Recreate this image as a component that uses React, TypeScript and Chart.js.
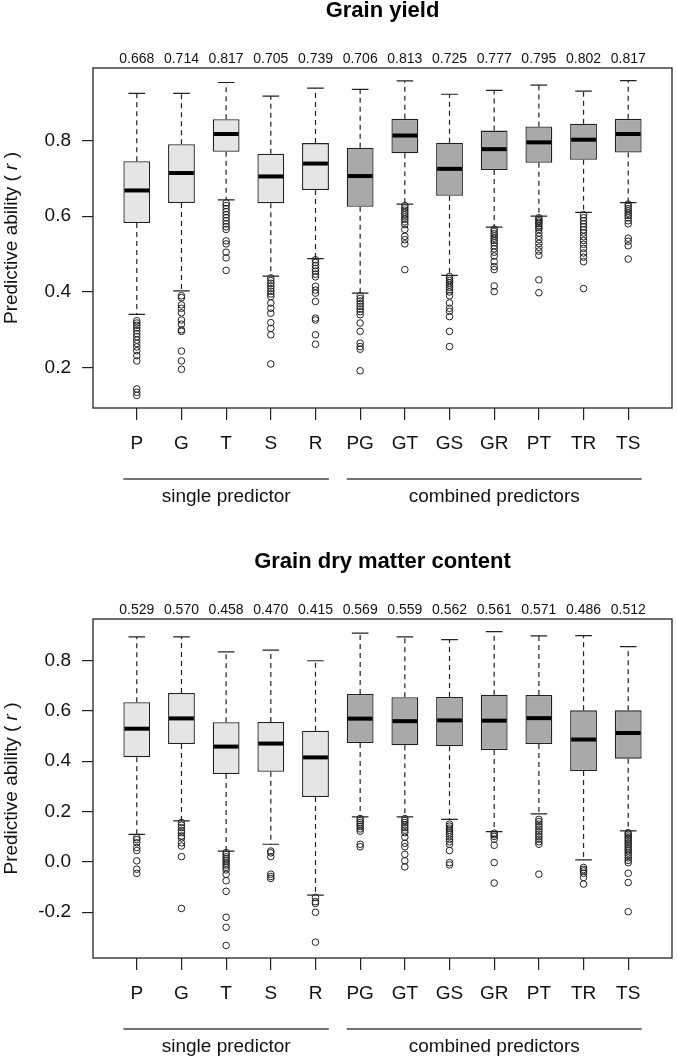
import React, { useRef, useEffect } from 'react';
import { Chart, registerables } from 'chart.js';

Chart.register(...registerables);
Chart.defaults.font.family = '"Liberation Sans", Arial, Helvetica, sans-serif';

const categories = ['P', 'G', 'T', 'S', 'R', 'PG', 'GT', 'GS', 'GR', 'PT', 'TR', 'TS'];
// first five are single predictors, the rest combined
const singleCount = 5;
const groupLabels = ['single predictor', 'combined predictors'];

// Grain yield
const gyMedian = [0.668, 0.714, 0.817, 0.705, 0.739, 0.706, 0.813, 0.725, 0.777, 0.795, 0.802, 0.817];
const gyQ1 = [0.582, 0.635, 0.770, 0.634, 0.669, 0.625, 0.766, 0.654, 0.722, 0.741, 0.749, 0.768];
const gyQ3 = [0.745, 0.790, 0.856, 0.765, 0.793, 0.781, 0.857, 0.794, 0.826, 0.837, 0.844, 0.857];
const gyLow = [0.341, 0.403, 0.643, 0.442, 0.488, 0.397, 0.632, 0.444, 0.571, 0.600, 0.610, 0.636];
const gyHigh = [0.924, 0.924, 0.953, 0.917, 0.938, 0.935, 0.957, 0.922, 0.932, 0.946, 0.930, 0.958];
const gyOutliers = [
  [0.324, 0.318, 0.312, 0.305, 0.298, 0.29, 0.282, 0.273, 0.264, 0.255, 0.245, 0.232, 0.218, 0.144, 0.135, 0.127],
  [0.39, 0.385, 0.366, 0.357, 0.345, 0.326, 0.315, 0.3, 0.296, 0.244, 0.218, 0.196],
  [0.635, 0.628, 0.62, 0.612, 0.604, 0.596, 0.588, 0.58, 0.572, 0.565, 0.535, 0.527, 0.505, 0.49, 0.457],
  [0.437, 0.43, 0.423, 0.416, 0.409, 0.402, 0.395, 0.388, 0.371, 0.357, 0.344, 0.319, 0.304, 0.287, 0.21],
  [0.485, 0.478, 0.47, 0.462, 0.455, 0.447, 0.44, 0.415, 0.405, 0.397, 0.375, 0.331, 0.326, 0.287, 0.262],
  [0.39, 0.383, 0.376, 0.369, 0.362, 0.355, 0.348, 0.34, 0.318, 0.296, 0.265, 0.256, 0.249, 0.192],
  [0.628, 0.622, 0.616, 0.61, 0.604, 0.598, 0.592, 0.585, 0.578, 0.565, 0.547, 0.538, 0.527, 0.459],
  [0.441, 0.435, 0.43, 0.424, 0.418, 0.412, 0.406, 0.4, 0.39, 0.371, 0.357, 0.349, 0.335, 0.296, 0.256],
  [0.566, 0.56, 0.554, 0.548, 0.542, 0.536, 0.53, 0.522, 0.514, 0.505, 0.495, 0.48, 0.467, 0.459, 0.416, 0.401],
  [0.596, 0.592, 0.588, 0.584, 0.58, 0.575, 0.57, 0.565, 0.556, 0.547, 0.538, 0.528, 0.518, 0.508, 0.497, 0.432, 0.398],
  [0.604, 0.596, 0.588, 0.58, 0.572, 0.564, 0.556, 0.546, 0.536, 0.526, 0.515, 0.503, 0.492, 0.48, 0.409],
  [0.632, 0.626, 0.62, 0.614, 0.608, 0.602, 0.596, 0.588, 0.58, 0.542, 0.534, 0.522, 0.487],
];
const gyTicks = [0.2, 0.4, 0.6, 0.8];

// Grain dry matter content
const dmMedian = [0.529, 0.570, 0.458, 0.470, 0.415, 0.569, 0.559, 0.562, 0.561, 0.571, 0.486, 0.512];
const dmQ1 = [0.416, 0.468, 0.349, 0.358, 0.258, 0.472, 0.463, 0.459, 0.444, 0.468, 0.361, 0.410];
const dmQ3 = [0.634, 0.671, 0.555, 0.556, 0.521, 0.667, 0.654, 0.655, 0.664, 0.663, 0.602, 0.602];
const dmLow = [0.109, 0.163, 0.043, 0.070, -0.132, 0.179, 0.179, 0.169, 0.120, 0.191, 0.008, 0.123];
const dmHigh = [0.894, 0.894, 0.834, 0.841, 0.799, 0.909, 0.894, 0.883, 0.915, 0.898, 0.899, 0.855];
const dmOutliers = [
  [0.096, 0.088, 0.076, 0.057, 0.045, 0.004, -0.029, -0.046],
  [0.156, 0.146, 0.136, 0.124, 0.116, 0.103, 0.095, 0.076, 0.063, 0.021, -0.185],
  [0.037, 0.029, 0.02, 0.012, 0.004, -0.005, -0.013, -0.022, -0.032, -0.049, -0.075, -0.117, -0.22, -0.26, -0.332],
  [0.043, 0.036, 0.021, -0.049, -0.058, -0.066],
  [-0.141, -0.158, -0.165, -0.2, -0.319],
  [0.172, 0.164, 0.156, 0.148, 0.14, 0.131, 0.122, 0.07, 0.06],
  [0.172, 0.164, 0.156, 0.146, 0.136, 0.126, 0.116, 0.098, 0.074, 0.06, 0.03, 0.004, -0.02],
  [0.15, 0.142, 0.134, 0.126, 0.118, 0.11, 0.1, 0.09, 0.08, 0.07, 0.045, -0.003, -0.012],
  [0.114, 0.108, 0.101, 0.09, 0.066, -0.003, -0.084],
  [0.169, 0.16, 0.15, 0.14, 0.13, 0.12, 0.11, 0.1, 0.09, 0.08, 0.07, -0.049],
  [-0.022, -0.03, -0.036, -0.045, -0.062, -0.088],
  [0.116, 0.11, 0.103, 0.096, 0.089, 0.082, 0.075, 0.068, 0.06, 0.052, 0.044, 0.035, 0.026, 0.016, 0.006, -0.003, -0.045, -0.082, -0.198],
];
const dmTicks = [-0.2, 0.0, 0.2, 0.4, 0.6, 0.8];

interface PanelProps {
  title: string;
  median: number[];
  q1: number[];
  q3: number[];
  low: number[];
  high: number[];
  outliers: number[][];
  yTicks: number[];
  padTop: number;
  axisHeight: number;
}

const INK = '#222';
const LIGHT = '#e5e5e5';
const DARK = '#a9a9a9';
const FAMILY = '"Liberation Sans", Arial, sans-serif';

function BoxPanel(props: PanelProps) {
  const canvasRef = useRef<HTMLCanvasElement>(null);
  const chartRef = useRef<Chart | null>(null);

  useEffect(() => {
    if (!canvasRef.current) return;
    const { title, median, q1, q3, low, high, outliers, yTicks, padTop, axisHeight } = props;

    // R style axis ranges: 4% beyond the data
    const all = outliers.flat().concat(low, high);
    const dMin = Math.min(...all);
    const dMax = Math.max(...all);
    const yPad = (dMax - dMin) * 0.04;
    const n = categories.length;
    const xPad = n * 0.04;

    const boxDecor = {
      id: 'boxDecor',
      afterDatasetsDraw: (chart: any) => {
        const ctx = chart.ctx;
        const ys = chart.scales.y;
        const meta = chart.getDatasetMeta(0);
        ctx.save();
        meta.data.forEach((bar: any, i: number) => {
          const { x, width } = bar.getProps(['x', 'width'], true);
          const yHi = ys.getPixelForValue(high[i]);
          const yLo = ys.getPixelForValue(low[i]);
          const yQ1 = ys.getPixelForValue(q1[i]);
          const yQ3 = ys.getPixelForValue(q3[i]);
          const yMed = ys.getPixelForValue(median[i]);
          ctx.strokeStyle = INK;
          ctx.lineWidth = 1.2;
          ctx.setLineDash([5, 4]);
          ctx.beginPath();
          ctx.moveTo(x, yQ3);
          ctx.lineTo(x, yHi);
          ctx.moveTo(x, yQ1);
          ctx.lineTo(x, yLo);
          ctx.stroke();
          ctx.setLineDash([]);
          const cap = width * 0.31;
          ctx.beginPath();
          ctx.moveTo(x - cap, yHi);
          ctx.lineTo(x + cap, yHi);
          ctx.moveTo(x - cap, yLo);
          ctx.lineTo(x + cap, yLo);
          ctx.stroke();
          ctx.lineWidth = 4;
          ctx.strokeStyle = '#000';
          ctx.beginPath();
          ctx.moveTo(x - width / 2 + 1, yMed);
          ctx.lineTo(x + width / 2 - 1, yMed);
          ctx.stroke();
        });
        ctx.restore();
      },
    };

    const annotations = {
      id: 'annotations',
      afterDraw: (chart: any) => {
        const ctx = chart.ctx;
        const { left, right, top, bottom } = chart.chartArea;
        const xs = chart.scales.x;
        ctx.save();
        // frame
        ctx.strokeStyle = INK;
        ctx.lineWidth = 1.3;
        ctx.strokeRect(left, top, right - left, bottom - top);

        // title
        ctx.fillStyle = '#000';
        ctx.textAlign = 'center';
        ctx.textBaseline = 'alphabetic';
        ctx.font = `bold 22px ${FAMILY}`;
        ctx.fillText(title, (left + right) / 2, top - 51);

        // median labels
        ctx.fillStyle = '#111';
        ctx.font = `14px ${FAMILY}`;
        median.forEach((m, i) => {
          ctx.fillText(m.toFixed(3), xs.getPixelForValue(i + 1), top - 5);
        });

        // y-axis title with italic r
        const font = `19px ${FAMILY}`;
        const ifont = `italic 19px ${FAMILY}`;
        const parts = [
          { t: 'Predictive ability ( ', f: font },
          { t: 'r', f: ifont },
          { t: ' )', f: font },
        ];
        let total = 0;
        parts.forEach((p) => {
          ctx.font = p.f;
          total += ctx.measureText(p.t).width;
        });
        ctx.save();
        ctx.translate(17, (top + bottom) / 2);
        ctx.rotate(-Math.PI / 2);
        ctx.textAlign = 'left';
        let px = -total / 2;
        parts.forEach((p) => {
          ctx.font = p.f;
          ctx.fillText(p.t, px, 0);
          px += ctx.measureText(p.t).width;
        });
        ctx.restore();

        // group brackets
        const groups = [
          [0.7, singleCount + 0.3],
          [singleCount + 0.7, n + 0.3],
        ];
        ctx.strokeStyle = '#444';
        ctx.lineWidth = 1.3;
        ctx.font = font;
        ctx.textAlign = 'center';
        ctx.textBaseline = 'middle';
        groups.forEach(([a, b], gi) => {
          const xa = xs.getPixelForValue(a);
          const xb = xs.getPixelForValue(b);
          ctx.beginPath();
          ctx.moveTo(xa, bottom + 71);
          ctx.lineTo(xb, bottom + 71);
          ctx.stroke();
          ctx.fillText(groupLabels[gi], (xa + xb) / 2, bottom + 89);
        });
        ctx.restore();
      },
    };

    chartRef.current?.destroy();
    chartRef.current = new Chart(canvasRef.current, {
      type: 'bar',
      data: {
        datasets: [
          {
            type: 'bar',
            data: q1.map((v, i) => ({ x: i + 1, y: [v, q3[i]] })) as any,
            backgroundColor: categories.map((_, i) => (i < singleCount ? LIGHT : DARK)),
            borderColor: INK,
            borderWidth: 1.3,
            borderSkipped: false,
            barPercentage: 0.6,
            categoryPercentage: 1,
          },
          {
            type: 'scatter',
            data: outliers.flatMap((arr, i) => arr.map((v) => ({ x: i + 1, y: v }))) as any,
            pointRadius: 3.3,
            pointStyle: 'circle',
            pointBackgroundColor: 'rgba(0,0,0,0)',
            pointBorderColor: INK,
            pointBorderWidth: 1,
          },
        ],
      },
      options: {
        responsive: false,
        animation: false,
        events: [],
        layout: { padding: { top: padTop, right: 3, left: 0, bottom: 0 } },
        plugins: { legend: { display: false }, tooltip: { enabled: false } },
        scales: {
          x: {
            type: 'linear',
            offset: false,
            min: 0.5 - xPad,
            max: n + 0.5 + xPad,
            afterBuildTicks: (s: any) => {
              s.ticks = categories.map((_, i) => ({ value: i + 1 }));
            },
            afterFit: (s: any) => {
              s.height = axisHeight;
            },
            grid: { offset: false, drawOnChartArea: false, drawTicks: true, tickLength: 12, color: INK, lineWidth: 1.2 },
            border: { display: false },
            ticks: {
              autoSkip: false,
              maxRotation: 0,
              padding: 12,
              color: '#111',
              font: { size: 19 },
              callback: (v: any) => categories[Math.round(v) - 1],
            },
          },
          y: {
            type: 'linear',
            min: dMin - yPad,
            max: dMax + yPad,
            afterBuildTicks: (s: any) => {
              s.ticks = yTicks.map((v) => ({ value: v }));
            },
            afterFit: (s: any) => {
              s.width = 93;
            },
            grid: { drawOnChartArea: false, drawTicks: true, tickLength: 11, color: INK, lineWidth: 1.2 },
            border: { display: false },
            ticks: {
              padding: 11,
              color: '#111',
              font: { size: 19 },
              callback: (v: any) => Number(v).toFixed(1),
            },
          },
        },
      },
      plugins: [boxDecor, annotations],
    });

    return () => {
      chartRef.current?.destroy();
      chartRef.current = null;
    };
  }, []);

  return <canvas ref={canvasRef} width={677} height={529} style={{ display: 'block' }} />;
}

export default function App() {
  return (
    <div style={{ position: 'absolute', left: 0, top: 0, width: 677, height: 1058, background: '#fff' }}>
      <BoxPanel
        title="Grain yield"
        median={gyMedian}
        q1={gyQ1}
        q3={gyQ3}
        low={gyLow}
        high={gyHigh}
        outliers={gyOutliers}
        yTicks={gyTicks}
        padTop={68}
        axisHeight={121}
      />
      <BoxPanel
        title="Grain dry matter content"
        median={dmMedian}
        q1={dmQ1}
        q3={dmQ3}
        low={dmLow}
        high={dmHigh}
        outliers={dmOutliers}
        yTicks={dmTicks}
        padTop={90}
        axisHeight={100}
      />
    </div>
  );
}
